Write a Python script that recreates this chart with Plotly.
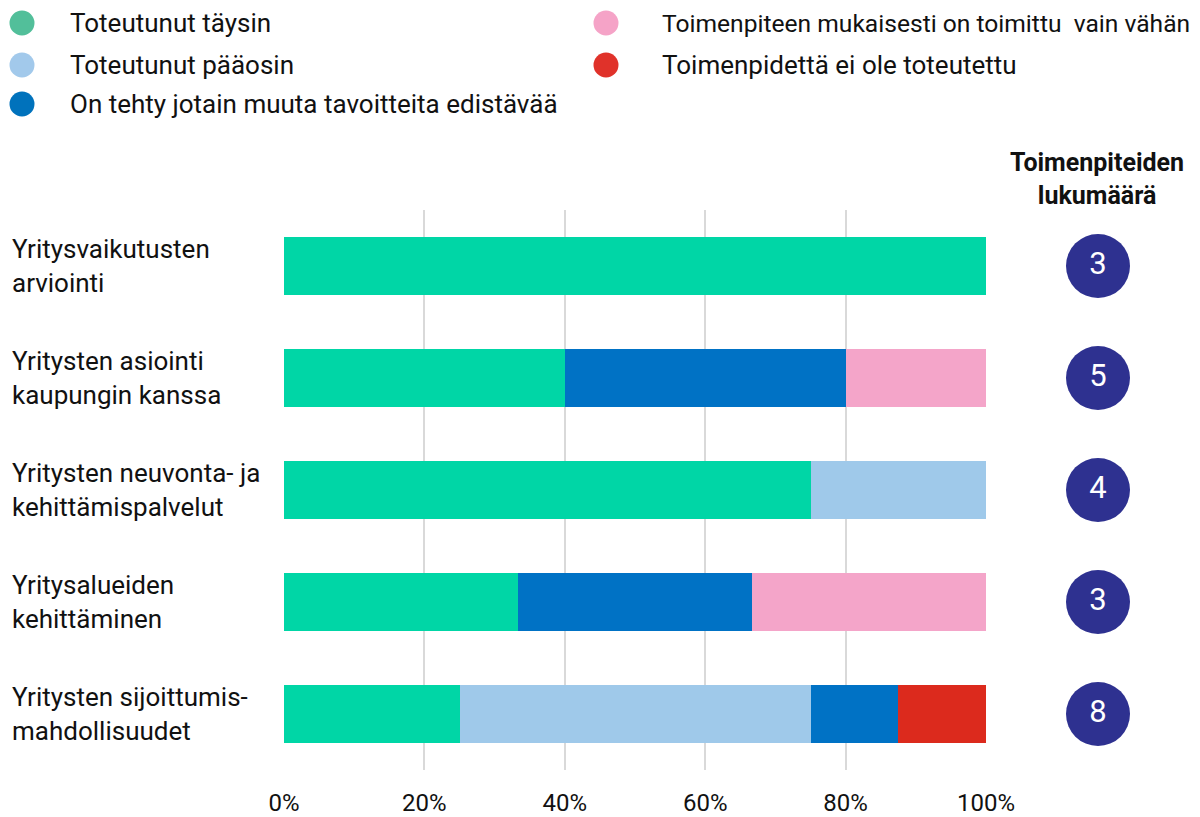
import plotly.graph_objects as go

categories = ["Yritysvaikutusten<br>arviointi",
              "Yritysten asiointi<br>kaupungin kanssa",
              "Yritysten neuvonta- ja<br>kehittämispalvelut",
              "Yritysalueiden<br>kehittäminen",
              "Yritysten sijoittumis-<br>mahdollisuudet"]
counts = [3, 5, 4, 3, 8]
series_names = ["Toteutunut täysin", "Toteutunut pääosin",
                "On tehty jotain muuta tavoitteita edistävää",
                "Toimenpiteen mukaisesti on toimittu  vain vähän",
                "Toimenpidettä ei ole toteutettu"]
täysin = [100, 40, 75, 33.333, 25]
pääosin = [0, 0, 25, 0, 50]
muuta = [0, 40, 0, 33.333, 12.5]
vähän = [0, 20, 0, 33.334, 0]
ei = [0, 0, 0, 0, 12.5]
series_values = [täysin, pääosin, muuta, vähän, ei]
bar_colors = ["#00D6A6", "#9FC9EA", "#0072C5", "#F4A5C9", "#DC2A1D"]
legend_colors = ["#52BF9A", "#A2C9EB", "#0072BC", "#F5A3C7", "#E0322A"]
x_ticks = [0, 20, 40, 60, 80, 100]
x_ticklabels = ["0%", "20%", "40%", "60%", "80%", "100%"]
header = "Toimenpiteiden<br>lukumäärä"

FONT = "Roboto"
W, H, OFF = 1192, 809, 8  # page body has an 8px margin


def px(x):
    return (x - OFF) / W


def py(y):
    return 1 - (y - OFF) / H


fig = go.Figure()
for name, vals, col in zip(series_names, series_values, bar_colors):
    fig.add_trace(go.Bar(y=categories, x=vals, name=name, orientation="h",
                         marker=dict(color=col, line=dict(width=0)),
                         width=0.52, showlegend=False))

fig.add_trace(go.Scatter(x=[0.5] * len(categories), y=categories, xaxis="x2",
                         mode="markers+text", text=[str(c) for c in counts],
                         textposition="middle center", cliponaxis=False,
                         textfont=dict(color="white", size=31, family=FONT),
                         marker=dict(size=64, color="#2E3190", line=dict(width=0)),
                         showlegend=False, hoverinfo="skip"))

fig.update_layout(
    template="none",
    width=W, height=H, autosize=False,
    margin=dict(l=0, r=0, t=0, b=0, pad=0, autoexpand=False),
    showlegend=False,
    paper_bgcolor="white", plot_bgcolor="white", barmode="stack",
    font=dict(family=FONT, size=26, color="#111111"),
    xaxis=dict(domain=[px(284), px(986)], range=[0, 100],
               tickvals=x_ticks, ticktext=x_ticklabels, automargin=False,
               showgrid=True, gridcolor="#D9D9D9", gridwidth=2,
               zeroline=False, showline=False, ticks="",
               ticklabelstandoff=16, tickfont=dict(size=24)),
    xaxis2=dict(domain=[px(1098) - 0.05, px(1098) + 0.05], range=[0, 1],
                anchor="y", visible=False, automargin=False),
    yaxis=dict(domain=[py(770), py(210)], range=[4.5, -0.5],
               automargin=False,
               showticklabels=False, showgrid=False, zeroline=False, ticks=""),
)

# category labels (left aligned)
for c in categories:
    fig.add_annotation(x=px(10), xref="paper", xanchor="left",
                       y=c, yref="y", yanchor="middle", text=c, showarrow=False,
                       align="left", font=dict(size=26, family=FONT))

# header
fig.add_annotation(x=px(1097), y=py(179), xref="paper", yref="paper",
                   text="<b>" + header + "</b>", showarrow=False, align="center",
                   xanchor="center", yanchor="middle",
                   font=dict(size=25, family=FONT))

# legend
legend_pos = [(22, 23, 68), (22, 65, 68), (22, 104, 68), (606, 23, 660), (606, 65, 660)]
legend_sizes = [26, 26, 26, 24.6, 26]
for (mx, my, tx), name, col, fs in zip(legend_pos, series_names, legend_colors, legend_sizes):
    r = 12.5
    fig.add_shape(type="circle", xref="paper", yref="paper",
                  x0=px(mx - r), x1=px(mx + r),
                  y0=py(my + r), y1=py(my - r),
                  fillcolor=col, line=dict(width=0))
    fig.add_annotation(x=px(tx), y=py(my), xref="paper", yref="paper",
                       text=name.replace("  ", "&nbsp; "), showarrow=False,
                       xanchor="left", yanchor="middle",
                       font=dict(size=fs, family=FONT))

fig.write_html("out.html")
